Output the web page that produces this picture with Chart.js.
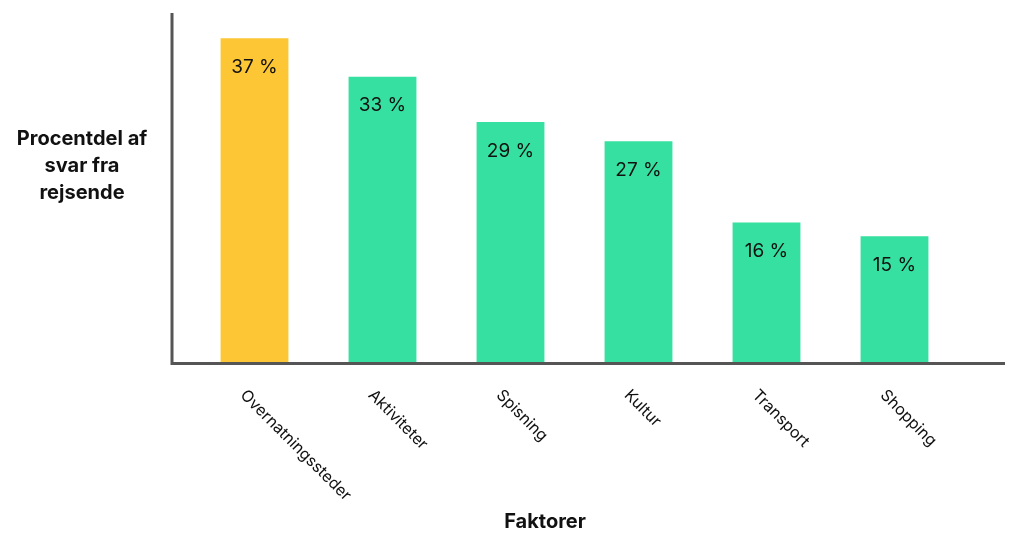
<!DOCTYPE html>
<html>
<head>
<meta charset="utf-8">
<script src="https://cdn.jsdelivr.net/npm/chart.js@4"></script>
<style>
  html, body { margin: 0; padding: 0; background: #fff; }
  #wrap { width: 1024px; height: 547px; }
</style>
</head>
<body>
<div id="wrap"><canvas id="chartCanvas" width="1024" height="547"></canvas></div>
<script>
// Data
const categories = ["Overnatningssteder", "Aktiviteter", "Spisning", "Kultur", "Transport", "Shopping"];
// bar heights as drawn (percent)
const values = [37.1, 32.7, 27.5, 25.3, 16.0, 14.4];
// labels printed in the bars
const valueLabels = ["37 %", "33 %", "29 %", "27 %", "16 %", "15 %"];
const barColors = ["#FDC635", "#36E0A0", "#36E0A0", "#36E0A0", "#36E0A0", "#36E0A0"];
const yTitle = ["Procentdel af", "svar fra", "rejsende"];
const xTitle = "Faktorer";

const FONT = "Inter, 'DejaVu Sans', sans-serif";

// Axis lines, titles, rotated category labels and value labels
const decorations = {
  id: "decorations",
  afterDatasetsDraw(chart) {
    const ctx = chart.ctx;
    const area = chart.chartArea;
    const xs = chart.scales.x;
    const meta = chart.getDatasetMeta(0);

    ctx.save();
    // axes
    ctx.strokeStyle = "#555555";
    ctx.lineWidth = 3;
    ctx.beginPath();
    ctx.moveTo(172, area.top);
    ctx.lineTo(172, area.bottom + 1.5);
    ctx.lineTo(1005, area.bottom + 1.5);
    ctx.stroke();

    // value labels inside bars
    ctx.fillStyle = "#111111";
    ctx.font = "19px " + FONT;
    ctx.textAlign = "center";
    ctx.textBaseline = "middle";
    meta.data.forEach((bar, i) => {
      ctx.fillText(valueLabels[i], bar.x, bar.y + 29);
    });

    // rotated category labels
    ctx.font = "16px " + FONT;
    ctx.textAlign = "left";
    ctx.textBaseline = "top";
    categories.forEach((c, i) => {
      const x = xs.getPixelForValue(i) - 6;
      ctx.save();
      ctx.translate(x, area.bottom + 25);
      ctx.rotate(Math.PI / 4);
      ctx.fillText(c, 0, 0);
      ctx.restore();
    });

    // y title
    ctx.font = "bold 20px " + FONT;
    ctx.textAlign = "center";
    ctx.textBaseline = "middle";
    yTitle.forEach((line, i) => {
      ctx.fillText(line, 82, 139 + i * 27);
    });

    // x title
    ctx.fillText(xTitle, 545, 522);
    ctx.restore();
  }
};

new Chart(document.getElementById("chartCanvas").getContext("2d"), {
  type: "bar",
  data: {
    labels: categories,
    datasets: [{
      data: values,
      backgroundColor: barColors,
      borderWidth: 0,
      barPercentage: 1,
      categoryPercentage: 0.53
    }]
  },
  options: {
    responsive: false,
    animation: false,
    layout: { padding: { left: 190.5, right: 65.5, top: 13, bottom: 185 } },
    plugins: {
      legend: { display: false },
      tooltip: { enabled: false }
    },
    scales: {
      x: { display: false },
      y: { display: false, min: 0, max: 40 }
    }
  },
  plugins: [decorations]
});
</script>
</body>
</html>
